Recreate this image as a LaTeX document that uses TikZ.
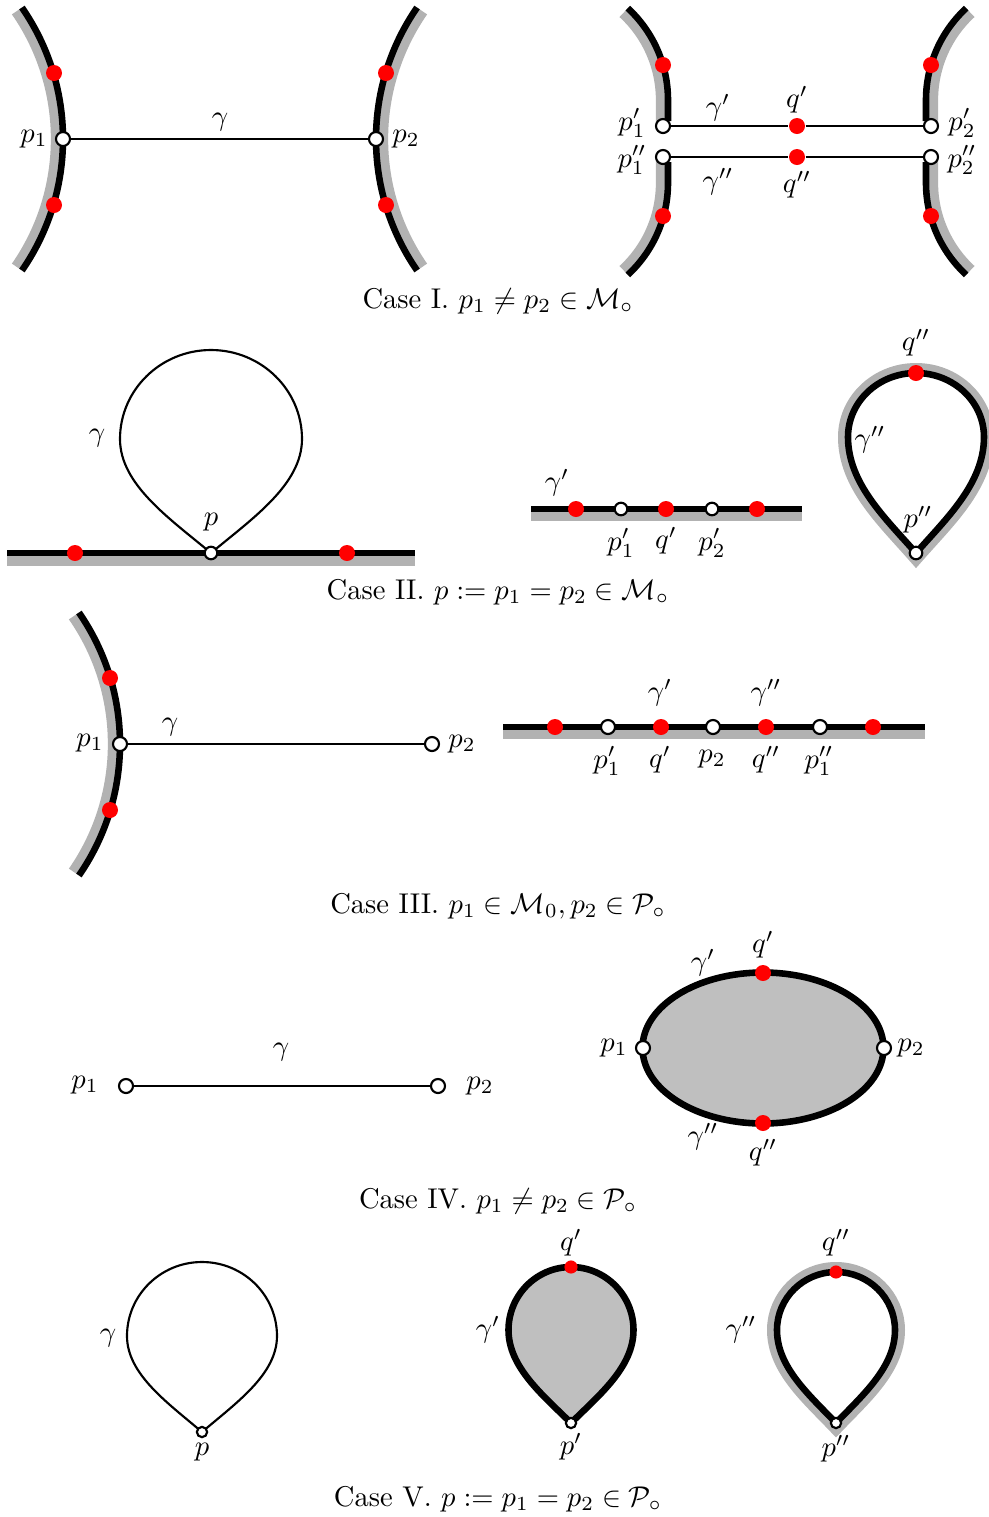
\documentclass[tikz,border=0pt]{standalone}
\usepackage{amsmath,amssymb}
\newcommand\tdrop[5]{(#1,#2) .. controls ({#1-0.45*#3},{#2-0.3*#4}) and ({#1-#3},{#2-0.6*#4}) .. ({#1-#3},{#2-#4}) .. controls ({#1-#3},{#2-#4-0.552*(#5-#4)}) and ({#1-0.552*#3},{#2-#5}) .. (#1,{#2-#5}) .. controls ({#1+0.552*#3},{#2-#5}) and ({#1+#3},{#2-#4-0.552*(#5-#4)}) .. ({#1+#3},{#2-#4}) .. controls ({#1+#3},{#2-0.6*#4}) and ({#1+0.45*#3},{#2-0.3*#4}) .. cycle}
\begin{document}
\begin{tikzpicture}[x=0.35pt,y=-0.35pt,
  band/.style={draw=black!30, line width=3.6pt},
  ringband/.style={draw=black!30, line width=7pt},
  fat/.style={draw=black, line width=2.3pt},
  thinline/.style={draw=black, line width=0.75pt},
  reddot/.style={circle, fill=red, inner sep=0pt, minimum size=5.6pt},
  smallred/.style={circle, fill=red, inner sep=0pt, minimum size=4.6pt},
  opendot/.style={circle, draw=black, fill=white, line width=0.75pt, inner sep=0pt, minimum size=4.9pt},
  middot/.style={opendot, minimum size=4.4pt},
  smalldot/.style={opendot, minimum size=3.6pt},
  lbl/.style={inner sep=0pt},
]
\useasboundingbox (0,0) rectangle (989,1517);

%%%%%%%%%%%%%%%% Case I left
\draw[band] (-168,139) ++(-34.7:224) arc[start angle=-34.7, end angle=34.7, radius=224];
\draw[fat] (-168,139) ++(-34.7:231) arc[start angle=-34.7, end angle=34.7, radius=231];
\draw[band] (607,139) ++(214.7:224) arc[start angle=214.7, end angle=145.3, radius=224];
\draw[fat] (607,139) ++(214.7:231) arc[start angle=214.7, end angle=145.3, radius=231];
\node[reddot] (ia1) at (54,73) {};
\node[reddot] (ia2) at (54,205) {};
\node[reddot] (ia3) at (386,73) {};
\node[reddot] (ia4) at (386,205) {};
\node[opendot] (ip1) at (63,139) {};
\node[opendot] (ip2) at (376,139) {};
\draw[thinline] (ip1) -- (ip2);
\node[lbl] (ilp1) at (34,139) {$p_1$};
\node[lbl] (ilp2) at (406,139) {$p_2$};
\node[lbl] (ilg) at (220,122) {$\gamma$};

%%%%%%%%%%%%%%%% Case I right
\draw[band] (543,100) ++(-47.3:118) arc[start angle=-47.3, end angle=0, radius=118] -- ++(0,22);
\draw[fat] (543,100) ++(-47.3:125) arc[start angle=-47.3, end angle=0, radius=125] -- ++(0,21);
\draw[band] (543,183) ++(47.3:118) arc[start angle=47.3, end angle=0, radius=118] -- ++(0,-22);
\draw[fat] (543,183) ++(47.3:125) arc[start angle=47.3, end angle=0, radius=125] -- ++(0,-21);
\draw[band] (1051,100) ++(227.3:118) arc[start angle=227.3, end angle=180, radius=118] -- ++(0,22);
\draw[fat] (1051,100) ++(227.3:125) arc[start angle=227.3, end angle=180, radius=125] -- ++(0,21);
\draw[band] (1051,183) ++(132.7:118) arc[start angle=132.7, end angle=180, radius=118] -- ++(0,-22);
\draw[fat] (1051,183) ++(132.7:125) arc[start angle=132.7, end angle=180, radius=125] -- ++(0,-21);
\node[reddot] (ib1) at (663,65) {};
\node[reddot] (ib2) at (663,216) {};
\node[reddot] (ib3) at (931,65) {};
\node[reddot] (ib4) at (931,216) {};
\node[opendot] (ipa) at (663,126) {};
\node[opendot] (ipb) at (663,157) {};
\node[opendot] (ipc) at (931,126) {};
\node[opendot] (ipd) at (931,157) {};
\node[reddot] (iqa) at (797,126) {};
\node[reddot] (iqb) at (797,157) {};
\draw[thinline] (ipa) -- (iqa) -- (ipc);
\draw[thinline] (ipb) -- (iqb) -- (ipd);
\node[lbl] (ilpa) at (632,123) {$p_1'$};
\node[lbl] (ilpb) at (632,160) {$p_1''$};
\node[lbl] (ilpc) at (962,123) {$p_2'$};
\node[lbl] (ilpd) at (962,160) {$p_2''$};
\node[lbl] (ilga) at (718,108) {$\gamma'$};
\node[lbl] (ilqa) at (797,100) {$q'$};
\node[lbl] (ilgb) at (718,182) {$\gamma''$};
\node[lbl] (ilqb) at (797,185) {$q''$};
\node (cap1) at (498,301) {Case I. $p_1\neq p_2\in\mathcal{M}_\circ$};

%%%%%%%%%%%%%%%% Case II left
\draw[band] (7,561) -- (415,561);
\draw[fat] (7,553) -- (415,553);
\draw[thinline] \tdrop{211}{553}{91}{114}{203};
\node[reddot] (iia1) at (75,553) {};
\node[reddot] (iia2) at (347,553) {};
\node[middot] (iip) at (211,553) {};
\node[lbl] (iilg) at (97,438) {$\gamma$};
\node[lbl] (iilp) at (211,522) {$p$};

%%%%%%%%%%%%%%%% Case II middle
\draw[band] (531,516) -- (802,516);
\draw[fat] (531,509) -- (802,509);
\node[reddot] (iib1) at (576,509) {};
\node[middot] (iib2) at (621,509) {};
\node[reddot] (iib3) at (666,509) {};
\node[middot] (iib4) at (712,509) {};
\node[reddot] (iib5) at (757,509) {};
\node[lbl] (iilgb) at (557,483) {$\gamma'$};
\node[lbl] (iilpb1) at (621,543) {$p_1'$};
\node[lbl] (iilqb) at (666,541) {$q'$};
\node[lbl] (iilpb2) at (712,543) {$p_2'$};

%%%%%%%%%%%%%%%% Case II right
\draw[ringband] \tdrop{916}{553}{68}{116}{180};
\fill[white] \tdrop{916}{553}{68}{116}{180};
\draw[fat] \tdrop{916}{553}{68}{116}{180};
\node[reddot] (iic1) at (916,373) {};
\node[middot] (iic2) at (916,553) {};
\node[lbl] (iilqc) at (916,343) {$q''$};
\node[lbl] (iilgc) at (870,440) {$\gamma''$};
\node[lbl] (iilpc) at (918,520) {$p''$};
\node (cap2) at (498,592) {Case II. $p:=p_1=p_2\in\mathcal{M}_\circ$};

%%%%%%%%%%%%%%%% Case III left
\draw[band] (-111,744) ++(-34.7:224) arc[start angle=-34.7, end angle=34.7, radius=224];
\draw[fat] (-111,744) ++(-34.7:231) arc[start angle=-34.7, end angle=34.7, radius=231];
\node[reddot] (iiia1) at (110,678) {};
\node[reddot] (iiia2) at (110,810) {};
\node[opendot] (iiip1) at (120,744) {};
\node[opendot] (iiip2) at (432,744) {};
\draw[thinline] (iiip1) -- (iiip2);
\node[lbl] (iiilp1) at (90,743) {$p_1$};
\node[lbl] (iiilp2) at (462,744) {$p_2$};
\node[lbl] (iiilg) at (170,727) {$\gamma$};

%%%%%%%%%%%%%%%% Case III right
\draw[band] (503,734) -- (925,734);
\draw[fat] (503,727) -- (925,727);
\node[reddot] (iiib1) at (555,727) {};
\node[opendot] (iiib2) at (608,727) {};
\node[reddot] (iiib3) at (661,727) {};
\node[opendot] (iiib4) at (713,727) {};
\node[reddot] (iiib5) at (766,727) {};
\node[opendot] (iiib6) at (820,727) {};
\node[reddot] (iiib7) at (873,727) {};
\node[lbl] (iiilga) at (660,693) {$\gamma'$};
\node[lbl] (iiilgb) at (766,693) {$\gamma''$};
\node[lbl] (iiilb2) at (607,761) {$p_1'$};
\node[lbl] (iiilb3) at (660,760) {$q'$};
\node[lbl] (iiilb4) at (712,759) {$p_2$};
\node[lbl] (iiilb5) at (766,760) {$q''$};
\node[lbl] (iiilb6) at (819,761) {$p_1''$};
\node (cap3) at (498,906) {Case III. $p_1\in\mathcal{M}_0, p_2\in\mathcal{P}_\circ$};

%%%%%%%%%%%%%%%% Case IV left
\node[opendot] (ivp1) at (126,1086) {};
\node[opendot] (ivp2) at (438,1086) {};
\draw[thinline] (ivp1) -- (ivp2);
\node[lbl] (ivlp1) at (85,1085) {$p_1$};
\node[lbl] (ivlp2) at (480,1086) {$p_2$};
\node[lbl] (ivlg) at (281,1052) {$\gamma$};

%%%%%%%%%%%%%%%% Case IV right
\draw[fat, fill=black!25] (763,1048) ellipse [x radius=120.5, y radius=75.5];
\node[opendot] (ivb1) at (643,1048) {};
\node[opendot] (ivb2) at (884,1048) {};
\node[reddot] (ivq1) at (763,973) {};
\node[reddot] (ivq2) at (763,1123) {};
\node[lbl] (ivlb1) at (614,1048) {$p_1$};
\node[lbl] (ivlb2) at (911,1048) {$p_2$};
\node[lbl] (ivlq1) at (763,945) {$q'$};
\node[lbl] (ivlq2) at (763,1153) {$q''$};
\node[lbl] (ivlg1) at (703,963) {$\gamma'$};
\node[lbl] (ivlg2) at (703,1137) {$\gamma''$};
\node (cap4) at (498,1201) {Case IV. $p_1\neq p_2\in\mathcal{P}_\circ$};

%%%%%%%%%%%%%%%% Case V
\draw[thinline] \tdrop{202}{1432}{75}{96}{170};
\node[smalldot] (vp) at (202,1432) {};
\node[lbl] (vlg) at (108,1338) {$\gamma$};
\node[lbl] (vlp) at (202,1452) {$p$};

\draw[fat, fill=black!25] \tdrop{571}{1423}{62.5}{93}{156};
\node[smalldot] (vpb) at (571,1423) {};
\node[smallred] (vqb) at (571,1267) {};
\node[lbl] (vlqb) at (571,1243) {$q'$};
\node[lbl] (vlgb) at (488,1330) {$\gamma'$};
\node[lbl] (vlpb) at (571,1447) {$p'$};

\draw[ringband] \tdrop{836}{1423}{59}{93}{151};
\fill[white] \tdrop{836}{1423}{59}{93}{151};
\draw[fat] \tdrop{836}{1423}{59}{93}{151};
\node[smalldot] (vpc) at (836,1423) {};
\node[smallred] (vqc) at (836,1272) {};
\node[lbl] (vlqc) at (836,1243) {$q''$};
\node[lbl] (vlgc) at (741,1330) {$\gamma''$};
\node[lbl] (vlpc) at (836,1449) {$p''$};
\node (cap5) at (498,1499) {Case V. $p:=p_1=p_2\in\mathcal{P}_\circ$};
\end{tikzpicture}
\end{document}
